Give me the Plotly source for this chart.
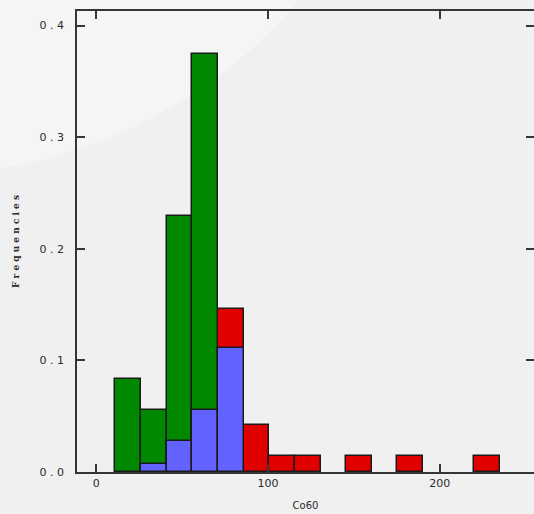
import plotly.graph_objects as go

# Histogram bins of the Co60 values (equal-width bins)
bin_start = 11.2
bin_width = 14.92
n_bins = 15

# Relative frequencies per bin for each group (None = empty bin)
freq_red = [None, None, None, None, 0.1458, 0.0417, 0.0139, 0.0139, None,
            0.0139, None, 0.0139, None, None, 0.0139]
freq_green = [0.0833, 0.0556, 0.2292, 0.3750, None, None, None, None, None,
              None, None, None, None, None, None]
freq_blue = [None, 0.0069, 0.0278, 0.0556, 0.1111, None, None, None, None,
             None, None, None, None, None, None]

x_ticks = [0, 100, 200]
y_ticks = [0.0, 0.1, 0.2, 0.3, 0.4]
y_tick_text = ["0 . 0", "0 . 1", "0 . 2", "0 . 3", "0 . 4"]

x_title = "Co60"
y_title = "F r e q u e n c i e s"

centers = [bin_start + bin_width * (i + 0.5) for i in range(n_bins)]

axis_color = "#363636"
outline = dict(color="#1a1a1a", width=1.5)

fig = go.Figure()
for freqs, color in [(freq_red, "#e00000"), (freq_green, "#008800"), (freq_blue, "#6262ff")]:
    fig.add_trace(go.Bar(
        x=centers, y=freqs, width=bin_width,
        marker=dict(color=color, line=outline),
        showlegend=False,
    ))

# empty trace so the mirrored top/right axes get drawn
fig.add_trace(go.Scatter(x=[None], y=[None], xaxis="x2", yaxis="y2",
                         showlegend=False, hoverinfo="skip"))

tick_font = dict(family="DejaVu Sans", size=11, color="#2a2a2a")
common_x = dict(range=[-11.2, 254.8], tickvals=x_ticks, ticks="inside", ticklen=8,
                tickwidth=1.5, tickcolor=axis_color, showgrid=False, zeroline=False)
common_y = dict(range=[0, 0.4131], tickvals=y_ticks, ticks="inside", ticklen=8,
                tickwidth=1.5, tickcolor=axis_color, showgrid=False, zeroline=False)

fig.update_layout(
    width=534, height=514,
    margin=dict(l=77, r=0, t=11, b=42),
    paper_bgcolor="#f0f0f0",
    plot_bgcolor="rgba(0,0,0,0)",
    barmode="overlay",
    bargap=0,
    xaxis=dict(**common_x, showline=True, linecolor=axis_color, linewidth=1.5,
               tickfont=tick_font,
               title=dict(text=x_title, font=dict(family="DejaVu Sans", size=10, color="#2a2a2a"),
                          standoff=13)),
    xaxis2=dict(**common_x, overlaying="x", side="top", matches="x",
                showline=True, linecolor=axis_color, linewidth=1.5, showticklabels=False),
    yaxis=dict(**common_y, showline=True, linecolor=axis_color, linewidth=1.5,
               ticktext=y_tick_text, tickfont=tick_font, ticklabelstandoff=9,
               title=dict(text="<b>" + y_title + "</b>",
                          font=dict(family="DejaVu Serif", size=9, color="#2a2a2a"),
                          standoff=18)),
    yaxis2=dict(**common_y, overlaying="y", side="right", matches="y",
                showline=False, showticklabels=False),
    shapes=[dict(
        type="circle", xref="paper", yref="paper",
        xsizemode="pixel", ysizemode="pixel",
        xanchor=-0.3873, yanchor=1.5682,
        x0=-492, x1=492, y0=-429, y1=429,
        fillcolor="#f5f5f5", line=dict(width=0), layer="below",
    )],
)

fig.write_html("out.html")
